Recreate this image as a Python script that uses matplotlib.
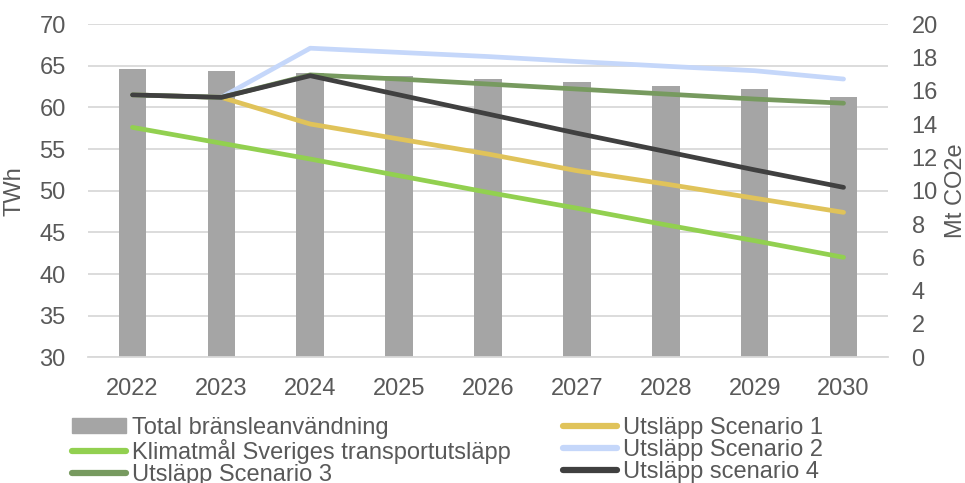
import numpy as np
import matplotlib
matplotlib.use("Agg")
import matplotlib.pyplot as plt
from matplotlib.lines import Line2D
from matplotlib.patches import Patch

plt.rcParams['font.family'] = ['Liberation Sans', 'DejaVu Sans']

# yearly data: fuel use (TWh, left axis) and emissions (Mt CO2e, right axis)
years = ['2022', '2023', '2024', '2025', '2026', '2027', '2028', '2029', '2030']
total_twh = [64.6, 64.4, 64.1, 63.8, 63.4, 63.0, 62.6, 62.2, 61.3]
klimatmal = [13.8, 12.85, 11.9, 10.9, 9.9, 8.95, 7.95, 7.0, 6.0]
scenario_1 = [15.75, 15.6, 14.0, 13.1, 12.2, 11.2, 10.4, 9.55, 8.7]
scenario_2 = [15.75, 15.6, 18.55, 18.3, 18.05, 17.75, 17.47, 17.2, 16.7]
scenario_3 = [15.75, 15.6, 16.95, 16.7, 16.4, 16.1, 15.8, 15.5, 15.25]
scenario_4 = [15.75, 15.6, 16.9, 15.75, 14.6, 13.45, 12.35, 11.25, 10.2]

TEXT = '#595959'
GRID = '#D9D9D9'
FS = 17

fig = plt.figure(figsize=(9.65, 4.83), dpi=100)
ax = fig.add_axes([0.0912, 0.2602, 0.829, 0.690])
x = np.arange(len(years))

ax.bar(x, total_twh, width=0.31, color='#A5A5A5', zorder=2)
ax.set_ylim(30, 70)
ax.set_yticks(np.arange(30, 71, 5))
ax.set_xlim(-0.5, len(years) - 0.5)
ax.set_xticks(x)
ax.set_xticklabels(years)
ax.yaxis.grid(True, color=GRID, linewidth=1.3, zorder=0)
ax.set_axisbelow(True)
for side in ['top', 'right', 'left']:
    ax.spines[side].set_visible(False)
ax.spines['bottom'].set_color(GRID)
ax.spines['bottom'].set_linewidth(1.3)
ax.tick_params(axis='both', length=0, labelsize=FS, labelcolor=TEXT)
ax.tick_params(axis='y', pad=16)
ax.tick_params(axis='x', pad=15)
ax.set_ylabel('TWh', fontsize=FS, color=TEXT, labelpad=10)

ax2 = ax.twinx()
ax2.set_ylim(0, 20)
ax2.set_yticks(np.arange(0, 21, 2))
for side in ['top', 'right', 'left', 'bottom']:
    ax2.spines[side].set_visible(False)
ax2.tick_params(axis='y', length=0, labelsize=FS, labelcolor=TEXT, pad=17)
ax2.set_ylabel('Mt CO2e', fontsize=FS, color=TEXT, labelpad=5)

series = [
    (klimatmal, '#92D050', 'Klimatmål Sveriges transportutsläpp'),
    (scenario_1, '#E0C35A', 'Utsläpp Scenario 1'),
    (scenario_2, '#C5D7FA', 'Utsläpp Scenario 2'),
    (scenario_3, '#779A5F', 'Utsläpp Scenario 3'),
    (scenario_4, '#404040', 'Utsläpp scenario 4'),
]
handles = {}
for vals, col, name in series:
    ax2.plot(x, vals, color=col, linewidth=3.4, solid_capstyle='round',
             solid_joinstyle='round')
    handles[name] = Line2D([], [], color=col, linewidth=4.5, solid_capstyle='round')
handles['Total bränsleanvändning'] = Patch(color='#A5A5A5')

# two-column legend, filled row by row
order = ['Total bränsleanvändning', 'Klimatmål Sveriges transportutsläpp',
         'Utsläpp Scenario 3', 'Utsläpp Scenario 1', 'Utsläpp Scenario 2',
         'Utsläpp scenario 4']
leg = fig.legend([handles[k] for k in order], order, ncol=2,
                 loc='upper left', bbox_to_anchor=(0.062, 0.161),
                 frameon=False, fontsize=FS, handlelength=2.3,
                 handleheight=0.6, handletextpad=0.25, columnspacing=2.2,
                 labelspacing=0.0, borderpad=0)
for t in leg.get_texts():
    t.set_color(TEXT)

fig.savefig('out.png', dpi=100)
